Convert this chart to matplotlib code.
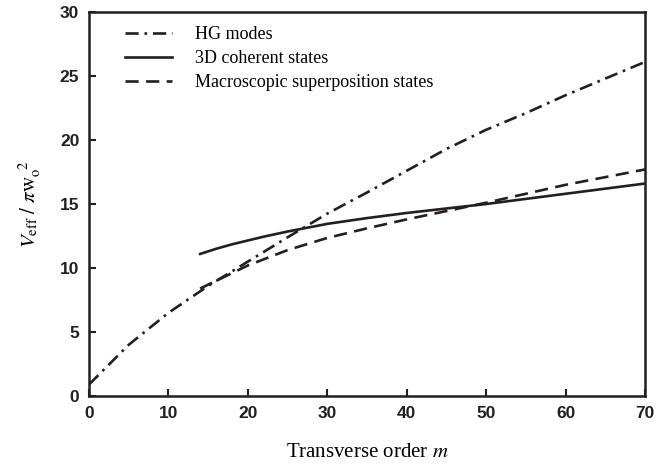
import matplotlib
matplotlib.use("Agg")
import matplotlib.pyplot as plt

# Transverse order m and V_eff / (pi w_o^2)
m_hg = [0, 5, 10, 15, 20, 25, 30, 35, 40, 45, 50, 55, 60, 65, 70]
v_hg = [0.9, 4.0, 6.5, 8.6, 10.5, 12.4, 14.25, 15.9, 17.6, 19.3, 20.8, 22.1, 23.5, 24.8, 26.1]

m_coh = [14, 16, 18, 20, 22, 25, 30, 35, 40, 45, 50, 55, 60, 65, 70]
v_coh = [11.1, 11.5, 11.85, 12.15, 12.45, 12.85, 13.45, 13.9, 14.3, 14.65, 15.0, 15.4, 15.8, 16.2, 16.6]

m_sup = [14, 20, 25, 30, 35, 40, 45, 50, 55, 60, 65, 70]
v_sup = [8.4, 10.2, 11.4, 12.35, 13.1, 13.8, 14.45, 15.1, 15.8, 16.5, 17.1, 17.7]

labels = ["HG modes", "3D coherent states", "Macroscopic superposition states"]

plt.rcParams["mathtext.fontset"] = "stix"
serif = "Liberation Serif"

fig = plt.figure(figsize=(6.72, 4.68), dpi=100)
ax = fig.add_axes([0.1324, 0.1538, 0.8276, 0.8206])

lw = 1.9
ax.plot(m_hg, v_hg, color="#231f20", lw=lw, dashes=(5, 2.2, 1, 2.2), label=labels[0])
ax.plot(m_coh, v_coh, color="#231f20", lw=lw, label=labels[1])
ax.plot(m_sup, v_sup, color="#231f20", lw=lw, dashes=(5, 2.8), label=labels[2])

ax.set_xlim(0, 70)
ax.set_ylim(0, 30)
ax.set_xticks(range(0, 71, 10))
ax.set_yticks(range(0, 31, 5))
for s in ax.spines.values():
    s.set_linewidth(1.8)
    s.set_color("#231f20")
ax.tick_params(direction="in", length=5, width=1.5, pad=7, colors="#231f20")
for t in ax.get_xticklabels() + ax.get_yticklabels():
    t.set_fontfamily("Liberation Sans")
    t.set_fontweight("bold")
    t.set_fontsize(12.5)

ax.set_xlabel(r"Transverse order $\it{m}$", fontfamily=serif, fontsize=15, labelpad=16)
ax.set_ylabel(r"$V_{\rm eff}\ /\ \pi {\rm w}_{\rm o}^{\ \ 2}$", fontsize=15, labelpad=12)

leg = ax.legend(loc="upper left", frameon=False, prop={"family": serif, "size": 13},
                handlelength=2.6, handletextpad=1.3, labelspacing=0.38,
                bbox_to_anchor=(0.035, 1.005))

fig.savefig("out.png", dpi=100)
